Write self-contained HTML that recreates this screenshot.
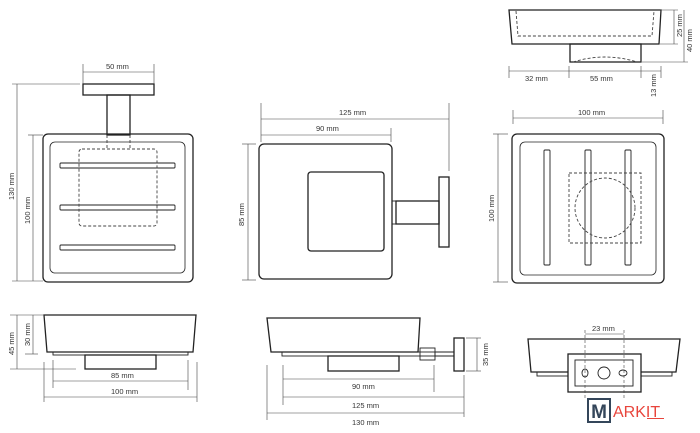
<!DOCTYPE html>
<html><head><meta charset="utf-8"><style>
html,body{margin:0;padding:0;background:#fff;}
svg{display:block;}
text{font-family:"Liberation Sans",sans-serif;font-size:7.5px;fill:#333;}
.o{fill:none;stroke:#222;stroke-width:1.3;}
.d{fill:none;stroke:#444;stroke-width:0.6;}
.da{fill:none;stroke:#444;stroke-width:0.9;stroke-dasharray:3,2;}
</style></head><body>
<svg width="700" height="433" viewBox="0 0 700 433" xmlns="http://www.w3.org/2000/svg">
<!-- Top-left plan -->
<rect class="o" x="83" y="84" width="71" height="11"/>
<rect class="o" x="107" y="95" width="23" height="40"/>
<rect class="o" x="43" y="134" width="150" height="148" rx="5"/>
<rect class="o" x="50" y="142" width="135" height="131" rx="5" style="stroke-width:0.8"/>
<rect class="o" x="60" y="163" width="115" height="5" rx="1" style="stroke-width:0.9"/>
<rect class="o" x="60" y="205" width="115" height="5" rx="1" style="stroke-width:0.9"/>
<rect class="o" x="60" y="245" width="115" height="5" rx="1" style="stroke-width:0.9"/>
<rect class="da" x="79" y="149" width="78" height="77" rx="3"/>
<line class="da" x1="107" y1="135" x2="107" y2="149"/><line class="da" x1="130" y1="135" x2="130" y2="149"/>
<line class="d" x1="83" y1="64" x2="83" y2="84"/><line class="d" x1="154" y1="64" x2="154" y2="84"/>
<line class="d" x1="83" y1="72" x2="154" y2="72"/><text x="106" y="69">50 mm</text>
<line class="d" x1="12" y1="84" x2="80" y2="84"/><line class="d" x1="12" y1="281" x2="43" y2="281"/>
<line class="d" x1="17" y1="84" x2="17" y2="281"/>
<line class="d" x1="28" y1="135" x2="43" y2="135"/>
<line class="d" x1="33" y1="135" x2="33" y2="281"/>
<text transform="translate(14,200) rotate(-90)">130 mm</text>
<text transform="translate(30,224) rotate(-90)">100 mm</text>

<!-- Bottom-left side -->
<path class="o" d="M44 315 L196 315 L193 352 L47 352 Z"/>
<rect class="o" x="53" y="352" width="135" height="3" style="stroke-width:0.9"/>
<rect class="o" x="85" y="355" width="71" height="14"/>
<line class="d" x1="10" y1="315" x2="44" y2="315"/><line class="d" x1="10" y1="369" x2="76" y2="369"/>
<line class="d" x1="25" y1="354" x2="38" y2="354"/>
<line class="d" x1="17" y1="315" x2="17" y2="369"/><line class="d" x1="33" y1="315" x2="33" y2="354"/>
<text transform="translate(14,355) rotate(-90)">45 mm</text>
<text transform="translate(30,346) rotate(-90)">30 mm</text>
<line class="d" x1="53" y1="360" x2="53" y2="388"/><line class="d" x1="188" y1="360" x2="188" y2="390"/>
<line class="d" x1="44" y1="362" x2="44" y2="402"/><line class="d" x1="197" y1="362" x2="197" y2="402"/>
<line class="d" x1="53" y1="381" x2="188" y2="381"/><line class="d" x1="44" y1="397" x2="197" y2="397"/>
<text x="111" y="378">85 mm</text><text x="111" y="394">100 mm</text>

<!-- Middle plan -->
<rect class="o" x="259" y="144" width="133" height="135" rx="5"/>
<rect class="o" x="308" y="172" width="76" height="79" rx="3"/>
<rect class="o" x="392" y="201" width="4" height="23" style="stroke-width:0.9"/>
<rect class="o" x="396" y="201" width="43" height="23"/>
<rect class="o" x="439" y="177" width="10" height="70"/>
<line class="d" x1="261" y1="103" x2="261" y2="142"/><line class="d" x1="449" y1="103" x2="449" y2="171"/>
<line class="d" x1="391" y1="128" x2="391" y2="142"/>
<line class="d" x1="261" y1="119" x2="449" y2="119"/><line class="d" x1="261" y1="135" x2="391" y2="135"/>
<text x="339" y="115">125 mm</text><text x="316" y="131">90 mm</text>
<line class="d" x1="242" y1="144" x2="256" y2="144"/><line class="d" x1="242" y1="280" x2="256" y2="280"/>
<line class="d" x1="248" y1="144" x2="248" y2="280"/>
<text transform="translate(244,226) rotate(-90)">85 mm</text>

<!-- Bottom-middle side -->
<path class="o" d="M267 318 L420 318 L418 352 L271 352 Z"/>
<rect class="o" x="282" y="352" width="153" height="4" style="stroke-width:0.9"/>
<rect class="o" x="328" y="356" width="71" height="15"/>
<rect class="o" x="420" y="348" width="15" height="12" style="stroke-width:0.9"/>
<line class="o" x1="435" y1="352" x2="454" y2="352" style="stroke-width:0.9"/>
<line class="o" x1="435" y1="356" x2="454" y2="356" style="stroke-width:0.9"/>
<rect class="o" x="454" y="338" width="10" height="33"/>
<line class="d" x1="466" y1="338" x2="481" y2="338"/><line class="d" x1="466" y1="371" x2="481" y2="371"/>
<line class="d" x1="477" y1="338" x2="477" y2="371"/>
<text transform="translate(488,366) rotate(-90)">35 mm</text>
<line class="d" x1="267" y1="365" x2="267" y2="420"/><line class="d" x1="283" y1="365" x2="283" y2="405"/>
<line class="d" x1="434" y1="365" x2="434" y2="392"/><line class="d" x1="464" y1="375" x2="464" y2="417"/>
<line class="d" x1="283" y1="379" x2="434" y2="379"/><line class="d" x1="283" y1="397" x2="464" y2="397"/>
<line class="d" x1="267" y1="413" x2="464" y2="413"/>
<text x="352" y="389">90 mm</text><text x="352" y="408">125 mm</text><text x="352" y="425">130 mm</text>

<!-- Right plan -->
<rect class="o" x="512" y="134" width="152" height="149" rx="5"/>
<rect class="o" x="520" y="142" width="136" height="133" rx="5" style="stroke-width:0.8"/>
<rect class="o" x="544" y="150" width="6" height="115" rx="1" style="stroke-width:0.9"/>
<rect class="o" x="585" y="150" width="6" height="115" rx="1" style="stroke-width:0.9"/>
<rect class="o" x="625" y="150" width="6" height="115" rx="1" style="stroke-width:0.9"/>
<rect class="da" x="569" y="173" width="72" height="70"/>
<circle class="da" cx="605" cy="208" r="30"/>
<line class="d" x1="513" y1="110" x2="513" y2="124"/><line class="d" x1="663" y1="110" x2="663" y2="124"/>
<line class="d" x1="513" y1="118" x2="663" y2="118"/><text x="578" y="115">100 mm</text>
<line class="d" x1="493" y1="134" x2="508" y2="134"/><line class="d" x1="493" y1="282" x2="508" y2="282"/>
<line class="d" x1="498" y1="134" x2="498" y2="282"/>
<text transform="translate(494,222) rotate(-90)">100 mm</text>

<!-- Top-right side -->
<path class="o" d="M509 10 L661 10 L659 44 L512 44 Z"/>
<path class="da" d="M516 11 L518 36 L652 36 L654 11"/>
<rect class="o" x="570" y="44" width="71" height="18"/>
<path class="da" d="M573 62 Q605 52 637 62"/>
<line class="d" x1="660" y1="10" x2="678" y2="10"/><line class="d" x1="660" y1="44" x2="678" y2="44"/>
<line class="d" x1="642" y1="62" x2="688" y2="62"/>
<line class="d" x1="674" y1="10" x2="674" y2="44"/><line class="d" x1="684" y1="10" x2="684" y2="62"/>
<text transform="translate(682,37) rotate(-90)">25 mm</text>
<text transform="translate(692,52) rotate(-90)">40 mm</text>
<line class="d" x1="509" y1="66" x2="509" y2="78"/><line class="d" x1="569" y1="66" x2="569" y2="78"/>
<line class="d" x1="641" y1="66" x2="641" y2="78"/><line class="d" x1="661" y1="66" x2="661" y2="78"/>
<line class="d" x1="509" y1="71" x2="661" y2="71"/>
<text x="525" y="81">32 mm</text><text x="590" y="81">55 mm</text>
<text transform="translate(656,97) rotate(-90)">13 mm</text>

<!-- Bottom-right side -->
<path class="o" d="M528 339 L680 339 L676 372 L531 372 Z"/>
<rect class="o" x="537" y="372" width="135" height="4" style="stroke-width:0.9"/>
<rect x="568" y="354" width="73" height="38" fill="#fff" stroke="#222" stroke-width="1.3"/>
<rect class="o" x="575" y="360" width="58" height="26" style="stroke-width:0.9"/>
<ellipse class="o" cx="585" cy="373" rx="3" ry="4" style="stroke-width:0.9"/>
<circle class="o" cx="604" cy="373" r="6" style="stroke-width:0.9"/>
<ellipse class="o" cx="623" cy="373" rx="4" ry="3" style="stroke-width:0.9"/>
<line class="da" x1="585" y1="330" x2="585" y2="398" style="stroke-width:0.6"/>
<line class="da" x1="624" y1="330" x2="624" y2="398" style="stroke-width:0.6"/>
<line class="d" x1="585" y1="334" x2="624" y2="334"/><text x="592" y="331">23 mm</text>

<!-- Logo -->
<rect x="588" y="399" width="22" height="23" fill="#fff" stroke="#34465a" stroke-width="2"/>
<text x="599" y="418" text-anchor="middle" style="font-size:19px;font-weight:bold;fill:#34465a">M</text>
<text x="613" y="417" style="font-size:16px;fill:#e8453c">ARKIT</text>
<line x1="647" y1="418.5" x2="664" y2="418.5" stroke="#e8453c" stroke-width="1"/>
</svg>
</body></html>
